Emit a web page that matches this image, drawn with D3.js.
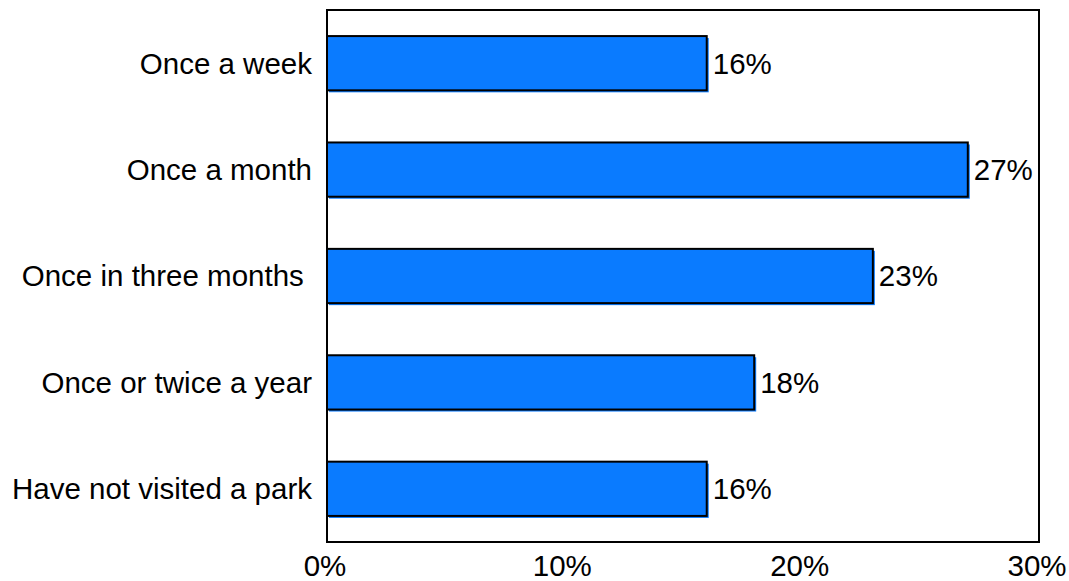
<!DOCTYPE html>
<html>
<head>
<meta charset="utf-8">
<script src="https://cdn.jsdelivr.net/npm/d3@7"></script>
<style>
    body { margin: 0; background: #fff; }
    text { font-family: "Liberation Sans", Arial, sans-serif; fill: #000; }
</style>
</head>
<body>
<div id="chart"></div>
<script>
// data
const categories = ["Once a week", "Once a month", "Once in three months ", "Once or twice a year", "Have not visited a park"];
const values = [16, 27, 23, 18, 16];
const xTicks = [0, 10, 20, 30];

const width = 1069, height = 581;
const margin = {top: 10, right: 30, bottom: 39, left: 327};
const fontSize = "29.5px";

const svg = d3.select("#chart").append("svg")
    .attr("width", width)
    .attr("height", height);

const x = d3.scaleLinear()
    .domain([0, 30])
    .range([margin.left, width - margin.right]);

const y = d3.scaleBand()
    .domain(categories)
    .range([margin.top, height - margin.bottom])
    .paddingInner(0.49)
    .paddingOuter(0.245);

// bars: blue shadow offset then black outline
let bars = svg.selectAll(".bar")
    .data(categories)
    .enter().append("g")
    .attr("class", "bar");

bars.append("rect")
    .attr("x", x(0) + 2)
    .attr("y", d => y(d) + 2)
    .attr("width", (d, i) => x(values[i]) - x(0))
    .attr("height", y.bandwidth())
    .attr("fill", "#0a7bff");

bars.append("rect")
    .attr("x", x(0))
    .attr("y", d => y(d))
    .attr("width", (d, i) => x(values[i]) - x(0))
    .attr("height", y.bandwidth())
    .attr("fill", "#0a7bff")
    .attr("stroke", "#000")
    .attr("stroke-width", 2);

// value labels
svg.selectAll(".val")
    .data(categories)
    .enter().append("text")
    .attr("class", "val")
    .attr("x", (d, i) => x(values[i]) + 6)
    .attr("y", d => y(d) + y.bandwidth() / 2)
    .attr("dy", "0.35em")
    .style("font-size", fontSize)
    .text((d, i) => values[i] + "%");

// category labels
svg.selectAll(".cat")
    .data(categories)
    .enter().append("text")
    .attr("class", "cat")
    .attr("x", margin.left - 15)
    .attr("y", d => y(d) + y.bandwidth() / 2)
    .attr("dy", "0.35em")
    .attr("text-anchor", "end")
    .style("font-size", fontSize)
    .style("white-space", "pre")
    .text(d => d);

// frame
svg.append("rect")
    .attr("x", x(0))
    .attr("y", margin.top)
    .attr("width", x(30) - x(0))
    .attr("height", height - margin.bottom - margin.top)
    .attr("fill", "none")
    .attr("stroke", "#000")
    .attr("stroke-width", 2);

// x tick labels
svg.selectAll(".tick-label")
    .data(xTicks)
    .enter().append("text")
    .attr("class", "tick-label")
    .attr("x", d => x(d) - 2)
    .attr("y", 576)
    .attr("text-anchor", "middle")
    .style("font-size", fontSize)
    .text(d => d + "%");
</script>
</body>
</html>
